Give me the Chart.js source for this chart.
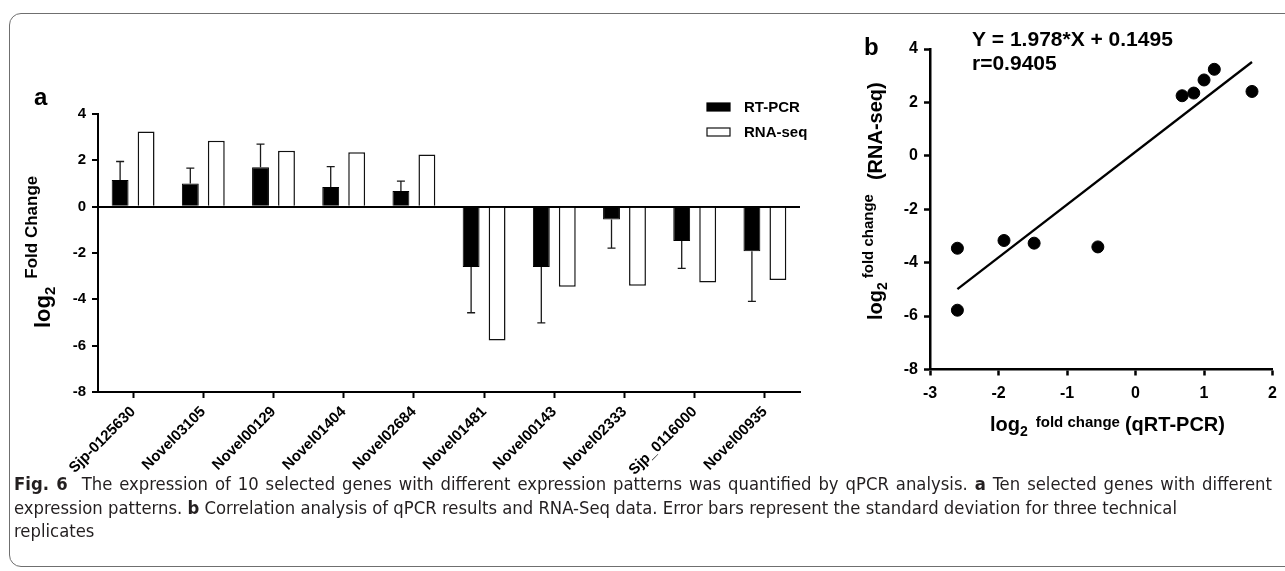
<!DOCTYPE html>
<html>
<head>
<meta charset="utf-8">
<script src="https://cdn.jsdelivr.net/npm/chart.js@4.4.0/dist/chart.umd.min.js"></script>
<style>
  html, body { margin: 0; padding: 0; background: #fff; }
  body { width: 1285px; height: 571px; overflow: hidden; position: relative; }
  #frame { position: absolute; left: 9px; top: 13px; width: 1300px; height: 552px;
           border: 1.5px solid #6f6f6f; border-radius: 12px; }
  #barCanvas { position: absolute; left: 0; top: 0; }
  #scatCanvas { position: absolute; left: 850px; top: 0; }
  .cap { position: absolute; left: 14px; width: 4000px; white-space: nowrap; line-height: 20px;
         font-family: "Liberation Sans Narrow", "DejaVu Sans Condensed", "Liberation Sans", sans-serif;
         font-size: 17px; color: #231f20; transform-origin: 0 0; }
  .cap span { display: inline-block; }
  .cap b { font-weight: bold; }
</style>
</head>
<body>
<div id="frame"></div>
<canvas id="barCanvas" width="830" height="480"></canvas>
<canvas id="scatCanvas" width="435" height="450"></canvas>
<div class="cap" id="cap1" style="top:474px"><span><b>Fig. 6</b>&nbsp; The expression of 10 selected genes with different expression patterns was quantified by qPCR analysis. <b>a</b> Ten selected genes with different</span></div>
<div class="cap" id="cap2" style="top:498px"><span>expression patterns. <b>b</b> Correlation analysis of qPCR results and RNA-Seq data. Error bars represent the standard deviation for three technical</span></div>
<div class="cap" id="cap3" style="top:521px"><span>replicates</span></div>
<script>
// genes and log2 fold changes
const genes = ["Sjp-0125630", "Novel03105", "Novel00129", "Novel01404", "Novel02684",
               "Novel01481", "Novel00143", "Novel02333", "Sjp_0116000", "Novel00935"];
const rtPcr   = [1.15, 1.0, 1.7, 0.85, 0.68, -2.6, -2.6, -0.55, -1.48, -1.92];
const rtPcrSd = [0.8, 0.66, 1.0, 0.88, 0.42, 1.98, 2.42, 1.24, 1.18, 2.17];
const rnaSeq  = [3.24, 2.84, 2.41, 2.35, 2.25, -5.78, -3.46, -3.41, -3.27, -3.17];

// linear fit shown in panel b
const fitSlope = 1.978;
const fitIntercept = 0.1495;
const fitR = 0.9405;

const FONT = '"Liberation Sans", Arial, sans-serif';
Chart.defaults.font.family = FONT;
Chart.defaults.color = '#000';

function bold(size) { return 'bold ' + size + 'px ' + FONT; }

// draws text rotated -90deg, parts go upward from (x, y)
function rotText(ctx, x, y, parts) {
  ctx.save();
  ctx.translate(x, y);
  ctx.rotate(-Math.PI / 2);
  ctx.textBaseline = 'alphabetic';
  ctx.textAlign = 'left';
  let pos = 0;
  parts.forEach(p => {
    pos += p.gap || 0;
    ctx.font = bold(p.size);
    ctx.fillText(p.text, pos, p.dy || 0);
    pos += ctx.measureText(p.text).width;
  });
  ctx.restore();
}
function rowText(ctx, x, y, parts) {
  ctx.save();
  ctx.textBaseline = 'alphabetic';
  ctx.textAlign = 'left';
  let pos = x;
  parts.forEach(p => {
    pos += p.gap || 0;
    ctx.font = bold(p.size);
    ctx.fillText(p.text, pos, y + (p.dy || 0));
    pos += ctx.measureText(p.text).width;
  });
  ctx.restore();
}

const errorBars = {
  id: 'errorBars',
  afterDatasetsDraw(chart) {
    const meta = chart.getDatasetMeta(0);
    const y = chart.scales.y;
    const ctx = chart.ctx;
    ctx.save();
    ctx.strokeStyle = '#1a1a1a';
    ctx.lineWidth = 1.3;
    meta.data.forEach((bar, i) => {
      const sign = rtPcr[i] >= 0 ? 1 : -1;
      const yEnd = y.getPixelForValue(rtPcr[i] + sign * rtPcrSd[i]);
      ctx.beginPath();
      ctx.moveTo(bar.x, bar.y);
      ctx.lineTo(bar.x, yEnd);
      ctx.moveTo(bar.x - 4, yEnd);
      ctx.lineTo(bar.x + 4, yEnd);
      ctx.stroke();
    });
    ctx.restore();
  }
};

const barDecor = {
  id: 'barDecor',
  afterDraw(chart) {
    const ctx = chart.ctx;
    ctx.save();
    ctx.fillStyle = '#000';
    ctx.font = bold(24);
    ctx.fillText('a', 34, 105);
    // legend
    const ds = chart.data.datasets;
    [103, 128].forEach((top, i) => {
      ctx.fillStyle = ds[i].backgroundColor;
      ctx.fillRect(707, top, 23, 8);
      ctx.strokeStyle = ds[i].borderColor;
      ctx.lineWidth = 1.2;
      ctx.strokeRect(707, top, 23, 8);
      ctx.fillStyle = '#000';
      ctx.font = bold(15);
      ctx.textBaseline = 'middle';
      ctx.fillText(ds[i].label, 744, top + 4.5);
    });
    ctx.restore();
    ctx.fillStyle = '#000';
    rotText(ctx, 50, 328, [
      { text: 'log', size: 22 },
      { text: '2', size: 15, dy: 5 },
      { text: 'Fold Change', size: 17, dy: -13, gap: 8 }
    ]);
  }
};

new Chart(document.getElementById('barCanvas'), {
  type: 'bar',
  data: {
    labels: genes,
    datasets: [
      { label: 'RT-PCR', data: rtPcr, backgroundColor: '#000', borderColor: '#000', borderWidth: 1 },
      { label: 'RNA-seq', data: rnaSeq, backgroundColor: '#fff', borderColor: '#111', borderWidth: 1.5 }
    ]
  },
  options: {
    responsive: false,
    animation: false,
    categoryPercentage: 0.74,
    barPercentage: 0.65,
    layout: { padding: { top: 114, right: 30, left: 0, bottom: 0 } },
    plugins: { legend: { display: false }, tooltip: { enabled: false } },
    scales: {
      x: {
        offset: true,
        grid: { offset: false, drawOnChartArea: false, tickLength: 6, tickColor: '#000', tickWidth: 2 },
        border: { color: '#000', width: 2 },
        ticks: { autoSkip: false, maxRotation: 45, minRotation: 45, padding: 5,
                 color: '#000', font: { size: 15, weight: 'bold' } },
        afterFit(s) { s.height = 88; }
      },
      y: {
        min: -8, max: 4,
        ticks: { stepSize: 2, padding: 6, color: '#000', font: { size: 15, weight: 'bold' } },
        grid: {
          color: c => c.tick && c.tick.value === 0 ? '#000' : 'rgba(0,0,0,0)',
          lineWidth: c => c.tick && c.tick.value === 0 ? 2 : 0,
          tickColor: '#000', tickWidth: 2, tickLength: 6
        },
        border: { color: '#000', width: 2 },
        afterFit(s) { s.width = 98; }
      }
    }
  },
  plugins: [errorBars, barDecor]
});

// panel b
const points = rtPcr.map((v, i) => ({ x: v, y: rnaSeq[i] }));
const xMin = Math.min(...rtPcr), xMax = Math.max(...rtPcr);
const fitLine = [xMin, xMax].map(x => ({ x: x, y: fitSlope * x + fitIntercept }));

const scatDecor = {
  id: 'scatDecor',
  afterDraw(chart) {
    const ctx = chart.ctx;
    const ox = -850;
    ctx.save();
    ctx.fillStyle = '#000';
    ctx.font = bold(24);
    ctx.fillText('b', 864 + ox, 55);
    ctx.font = bold(21);
    ctx.fillText('Y = ' + fitSlope + '*X + ' + fitIntercept, 972 + ox, 46);
    ctx.fillText('r=' + fitR, 972 + ox, 70);
    ctx.restore();
    ctx.fillStyle = '#000';
    rotText(ctx, 882 + ox, 320, [
      { text: 'log', size: 20 },
      { text: '2', size: 14, dy: 5 },
      { text: 'fold change', size: 15, dy: -9, gap: 4 },
      { text: '(RNA-seq)', size: 20, gap: 14 }
    ]);
    rowText(ctx, 990 + ox, 431, [
      { text: 'log', size: 20 },
      { text: '2', size: 14, dy: 5 },
      { text: 'fold change', size: 15, dy: -4, gap: 8 },
      { text: '(qRT-PCR)', size: 20, gap: 5 }
    ]);
  }
};

new Chart(document.getElementById('scatCanvas'), {
  type: 'scatter',
  data: {
    datasets: [
      { data: points, backgroundColor: '#000', borderColor: '#000', pointRadius: 6, clip: false },
      { type: 'line', data: fitLine, borderColor: '#000', borderWidth: 2.3, pointRadius: 0, fill: false }
    ]
  },
  options: {
    responsive: false,
    animation: false,
    layout: { padding: { top: 49, right: 10, left: 0, bottom: 0 } },
    plugins: { legend: { display: false }, tooltip: { enabled: false } },
    scales: {
      x: {
        type: 'linear', min: -3, max: 2,
        ticks: { stepSize: 1, padding: 8, color: '#000', font: { size: 16, weight: 'bold' } },
        grid: { drawOnChartArea: false, tickLength: 6, tickColor: '#000', tickWidth: 2.5 },
        border: { color: '#000', width: 2.5 },
        afterFit(s) { s.height = 80.5; }
      },
      y: {
        min: -8, max: 4,
        ticks: { stepSize: 2, padding: 6, color: '#000', font: { size: 16, weight: 'bold' } },
        grid: { drawOnChartArea: false, tickLength: 6, tickColor: '#000', tickWidth: 2.5 },
        border: { color: '#000', width: 2.5 },
        afterFit(s) { s.width = 80; }
      }
    }
  },
  plugins: [scatDecor]
});

// caption: condensing taken from line 2, first line justified to the full width
const caps = ['cap1', 'cap2', 'cap3'].map(id => document.getElementById(id));
const span1 = caps[0].querySelector('span');
const w1 = span1.getBoundingClientRect().width;
const w2 = caps[1].querySelector('span').getBoundingClientRect().width;
const squeeze = 1163 / w2;
const spaces = (span1.textContent.match(/[ \u00a0]/g) || []).length;
const extra = 1258 / squeeze - w1;
if (extra > 0) span1.style.wordSpacing = (extra / spaces) + 'px';
caps.forEach(el => { el.style.transform = 'scaleX(' + squeeze + ')'; });
</script>
</body>
</html>
